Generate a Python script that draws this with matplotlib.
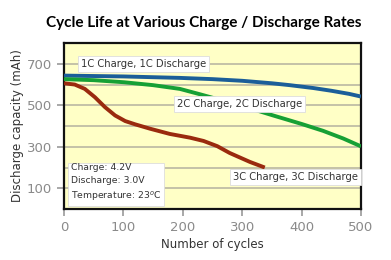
import matplotlib.pyplot as plt
import numpy as np

# data
c1_x = [0, 100, 195, 250, 300, 350, 380, 420, 450, 480, 500]
c1_y = [643, 639, 632, 626, 618, 606, 597, 583, 570, 555, 542]
c2_x = [0, 50, 101, 150, 195, 229, 268, 310, 352, 400, 436, 470, 500]
c2_y = [626, 621, 611, 597, 579, 553, 522, 488, 451, 410, 377, 340, 302]
c3_x = [0, 18, 35, 52, 69, 86, 103, 120, 145, 178, 212, 235, 258, 279, 313, 338]
c3_y = [606, 600, 579, 539, 491, 451, 424, 408, 387, 362, 344, 328, 303, 270, 227, 200]

labels = ['1C Charge, 1C Discharge', '2C Charge, 2C Discharge',
          '3C Charge, 3C Discharge']
conditions = 'Charge: 4.2V\nDischarge: 3.0V\nTemperature: 23$^o$C'
xticks = [0, 100, 200, 300, 400, 500]
yticks = [100, 300, 500, 700]

fig = plt.figure(figsize=(3.91, 2.6), dpi=100)
fig.patch.set_facecolor('white')
ax = fig.add_axes([0.1637, 0.196, 0.7596, 0.6385])
ax.set_facecolor('#ffffc6')

for g in range(100, 800, 100):
    ax.axhline(g, color='#c4c2a8', lw=1.4, zorder=1)

ax.plot(c1_x, c1_y, color='#1b5e99', lw=2.8, zorder=3, solid_capstyle='butt')
ax.plot(c2_x, c2_y, color='#16a035', lw=2.8, zorder=3, solid_capstyle='butt')
ax.plot(c3_x, c3_y, color='#9a2a0e', lw=2.8, zorder=3, solid_capstyle='butt')

box = dict(boxstyle='square,pad=0.3', fc='white', ec='#dddddd', lw=0.6)
ax.text(28, 698, labels[0], fontsize=7.2, color='#333333', va='center', bbox=box, zorder=4)
ax.text(190, 506, labels[1], fontsize=7.2, color='#333333', va='center', bbox=box, zorder=4)
ax.text(284, 154, labels[2], fontsize=7.2, color='#333333', va='center', bbox=box, zorder=4)
ax.text(11, 125, conditions, fontsize=6.7, color='#333333', va='center',
        linespacing=1.45, bbox=box, zorder=4)

ax.set_xlim(0, 500)
ax.set_ylim(0, 800)
ax.set_xticks(xticks)
ax.set_yticks(yticks)
ax.tick_params(colors='#999999', labelcolor='#8a8a8a', labelsize=9.5,
               length=5, width=1.2)
for s in ax.spines.values():
    s.set_linewidth(1.6)
    s.set_color('#111111')

ax.set_xlabel('Number of cycles', fontsize=8.5, color='#333333', labelpad=3)
ax.set_ylabel('Discharge capacity (mAh)', fontsize=8.5, color='#333333', labelpad=2)
fig.text(0.52, 0.912, 'Cycle Life at Various Charge / Discharge Rates',
         ha='center', va='center', fontsize=11, fontweight='bold',
         family='Lato', color='black')

fig.savefig('out.png', dpi=100)
